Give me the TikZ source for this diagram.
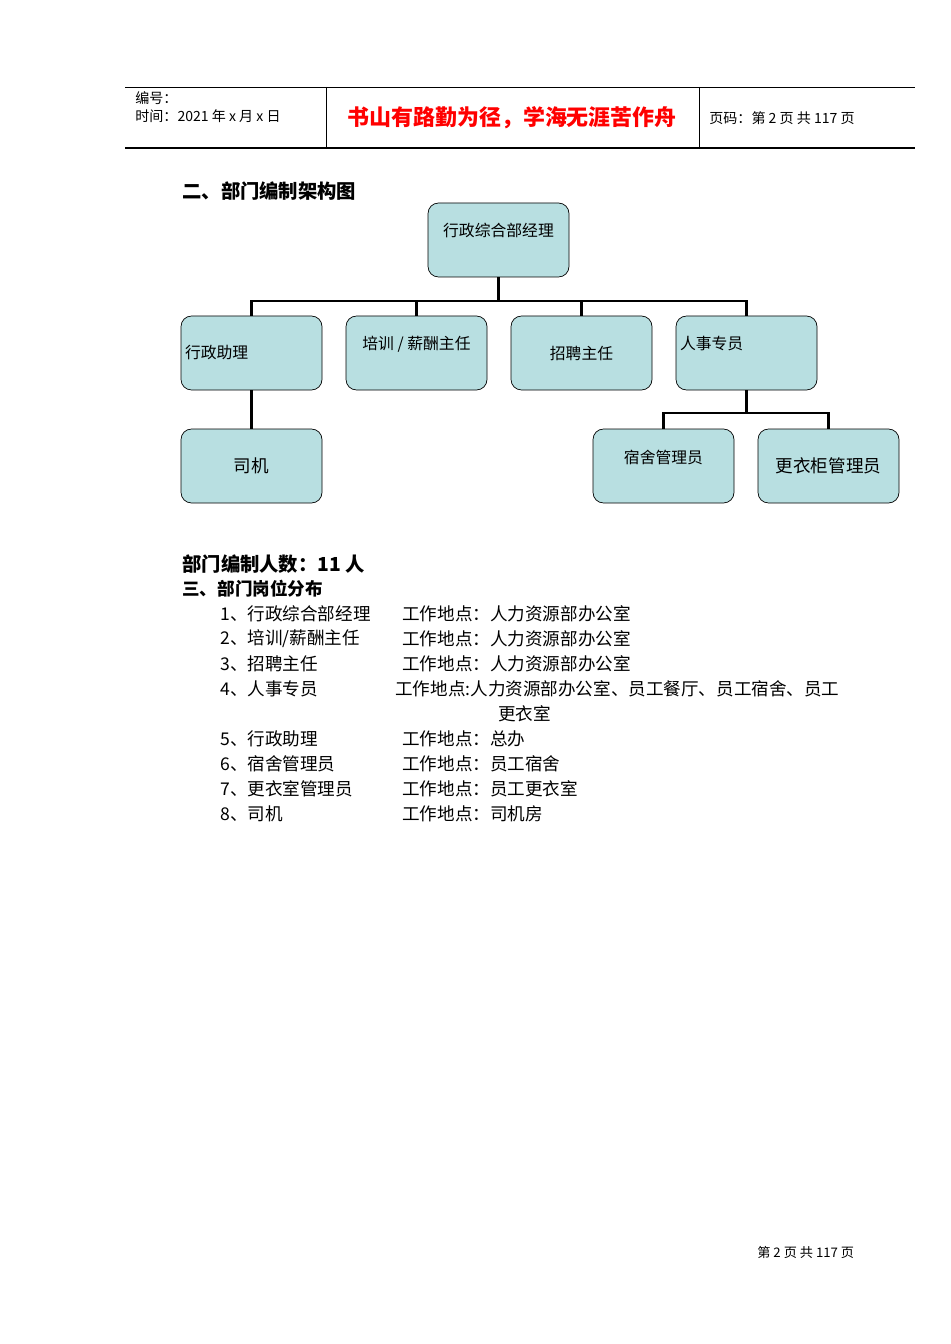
\documentclass[tikz,border=0pt]{standalone}
\usepackage{fontspec}
\setmainfont{Liberation Sans}
\newfontfamily\cjk{Noto Sans CJK SC}
\begin{document}
\begin{tikzpicture}[x=0.02cm,y=-0.02cm,
  box/.style={draw,fill=boxblue,rounded corners=6pt,minimum width=141*0.02cm,minimum height=74*0.02cm,font=\cjk\fontsize{9}{11}\selectfont,inner sep=0pt},
  lbox/.style={box,text width=133*0.02cm,align=left},
  con/.style={line width=1.6pt},
  txt/.style={anchor=west,font=\cjk\fontsize{10}{12}\selectfont,inner sep=0pt}]
\definecolor{boxblue}{HTML}{B8DFE1}
\useasboundingbox (0,0) rectangle (950,1344);
\fill[white] (0,0) rectangle (950,1344);
% header
\draw[line width=0.5pt] (125,87) -- (915,87);
\draw[line width=0.8pt] (125,148) -- (915,148);
\draw[line width=0.5pt] (326,87) -- (326,148) (699,87) -- (699,148);
\node[txt,font=\cjk\fontsize{8}{10}\selectfont] (h1) at (135,98) {编号：};
\node[txt,font=\cjk\fontsize{8}{10}\selectfont] (h2) at (135,116) {时间：2021 年 x 月 x 日};
\node[txt,font=\cjk\bfseries\fontsize{12.5}{14}\selectfont,text=red] (h3) at (347,118) {书山有路勤为径，学海无涯苦作舟};
\node[txt,font=\cjk\fontsize{8}{10}\selectfont] (h4) at (709,118) {页码：第 2 页 共 117 页};
\node[txt,font=\cjk\bfseries\fontsize{11}{13}\selectfont] (t1) at (182,191) {二、部门编制架构图};
% boxes
\node[box] (top) at (498.5,240) {\raisebox{12pt}{行政综合部经理}};
\node[lbox] (a) at (251.5,353) {行政助理};
\node[box] (b) at (416.5,353) {\raisebox{12pt}{培训 / 薪酬主任}};
\node[box] (c) at (581.5,353) {招聘主任};
\node[lbox] (d) at (746.5,353) {\raisebox{12pt}{人事专员}};
\node[box,font=\cjk\fontsize{10}{12}\selectfont] (e) at (251.5,466) {司机};
\node[box] (f) at (663.5,466) {\raisebox{10pt}{宿舍管理员}};
\node[box,font=\cjk\fontsize{10}{12}\selectfont] (g) at (828.5,466) {更衣柜管理员};
\coordinate (bus) at (498.5,301);
\draw[con] (top.south) -- (bus);
\draw[con] (a.north) |- (bus) (b.north) |- (bus) (c.north) |- (bus) (d.north) |- (bus);
\draw[con] (a.south) -- (e.north);
\coordinate (bus2) at (746.5,413);
\draw[con] (d.south) -- (bus2);
\draw[con] (f.north) |- (bus2) (g.north) |- (bus2);
% text
\node[txt,font=\cjk\bfseries\fontsize{11}{13}\selectfont] (n1) at (182,564) {部门编制人数：11 人};
\node[txt,font=\cjk\bfseries\fontsize{10}{12}\selectfont] (n2) at (182,589) {三、部门岗位分布};
\node[txt] (l1) at (220,614) {1、行政综合部经理};
\node[txt] (w1) at (402,614) {工作地点：人力资源部办公室};
\node[txt] (l2) at (220,639) {2、培训/薪酬主任};
\node[txt] (w2) at (402,639) {工作地点：人力资源部办公室};
\node[txt] (l3) at (220,664) {3、招聘主任};
\node[txt] (w3) at (402,664) {工作地点：人力资源部办公室};
\node[txt] (l4) at (220,689) {4、人事专员};
\node[txt] (w4) at (395,689) {工作地点:人力资源部办公室、员工餐厅、员工宿舍、员工};
\node[txt] (w4b) at (498,714) {更衣室};
\node[txt] (l5) at (220,739) {5、行政助理};
\node[txt] (w5) at (402,739) {工作地点：总办};
\node[txt] (l6) at (220,764) {6、宿舍管理员};
\node[txt] (w6) at (402,764) {工作地点：员工宿舍};
\node[txt] (l7) at (220,789) {7、更衣室管理员};
\node[txt] (w7) at (402,789) {工作地点：员工更衣室};
\node[txt] (l8) at (220,814) {8、司机};
\node[txt] (w8) at (402,814) {工作地点：司机房};
\node[txt,font=\cjk\fontsize{7.5}{9}\selectfont] (foot) at (757,1252) {第 2 页 共 117 页};
\end{tikzpicture}
\end{document}
